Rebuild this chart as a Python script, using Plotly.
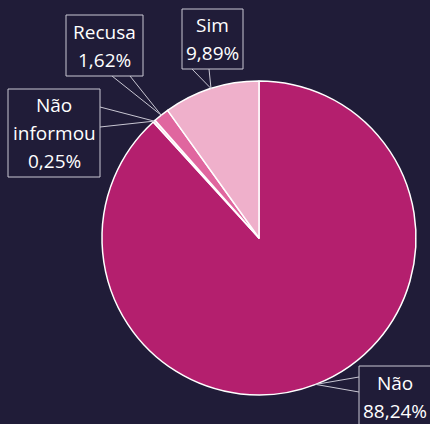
import math
import plotly.graph_objects as go

# ---- data ----
categories = ["Não", "Não informou", "Recusa", "Sim"]
values = [88.24, 0.25, 1.62, 9.89]
label_lines = [["Não", "88,24%"], ["Não", "informou", "0,25%"], ["Recusa", "1,62%"], ["Sim", "9,89%"]]

# ---- styles / layout ----
W, H = 430, 424
BG = "#201c38"
colors = ["#b41f6e", "#f7d6e4", "#e0669f", "#efb0cb"]
CX, CY, R = 259, 238, 157  # pie centre & radius in px
FONT = "Open Sans"
FONT_SIZE = 19
LINE_COL = "#c9c7d3"

# label boxes (x0, y0, x1, y1) in px, and callout base points on box edge
boxes = [
    (359, 366, 432, 430),
    (8, 89, 100, 177),
    (66, 15, 143, 76),
    (182, 9, 243, 69),
]
callout_bases = [
    [(359, 377), (359, 392)],
    [(100, 107), (100, 127)],
    [(112, 76), (130, 76)],
    [(192, 69), (209, 69)],
]
text_centres = [(395, 397), None, None, None]
LINE_STEP = 28


def px(x):
    return x / W


def py(y):
    return 1 - y / H


fig = go.Figure()
fig.add_trace(go.Pie(
    labels=categories, values=values, sort=False, direction="clockwise", rotation=0,
    marker=dict(colors=colors, line=dict(color="#ffffff", width=1.5)),
    textinfo="none", hoverinfo="label+percent", showlegend=False,
    domain=dict(x=[px(CX - R), px(CX + R)], y=[py(CY + R), py(CY - R)]),
))

shapes = []
annotations = []
total = sum(values)
cum = 0.0
for i, v in enumerate(values):
    mid = (cum + v / 2) / total * 2 * math.pi
    cum += v
    ax = CX + R * math.sin(mid)
    ay = CY - R * math.cos(mid)
    for bx, by in callout_bases[i]:
        shapes.append(dict(type="line", xref="paper", yref="paper",
                           x0=px(ax), y0=py(ay), x1=px(bx), y1=py(by),
                           line=dict(color=LINE_COL, width=1)))
    x0, y0, x1, y1 = boxes[i]
    shapes.append(dict(type="rect", xref="paper", yref="paper",
                       x0=px(x0), y0=py(y0), x1=px(x1), y1=py(y1),
                       fillcolor=BG, line=dict(color=LINE_COL, width=1)))
    lines = label_lines[i]
    n = len(lines)
    if text_centres[i]:
        cxb, cyb = text_centres[i]
    else:
        cxb, cyb = (x0 + x1) / 2, (y0 + y1) / 2
    for k, t in enumerate(lines):
        ty = cyb + (k - (n - 1) / 2) * LINE_STEP
        annotations.append(dict(text=t, x=px(cxb), y=py(ty), xref="paper", yref="paper",
                                showarrow=False, xanchor="center", yanchor="middle",
                                font=dict(family=FONT, size=FONT_SIZE, color="#ffffff")))

fig.update_layout(
    width=W, height=H, paper_bgcolor=BG, plot_bgcolor=BG,
    margin=dict(l=0, r=0, t=0, b=0),
    shapes=shapes, annotations=annotations,
)
fig.write_html(
    "out.html",
    config={"displayModeBar": False},
    post_script="document.body.style.margin='0';document.body.style.overflow='hidden';"
                "document.body.style.background='" + BG + "';",
)
